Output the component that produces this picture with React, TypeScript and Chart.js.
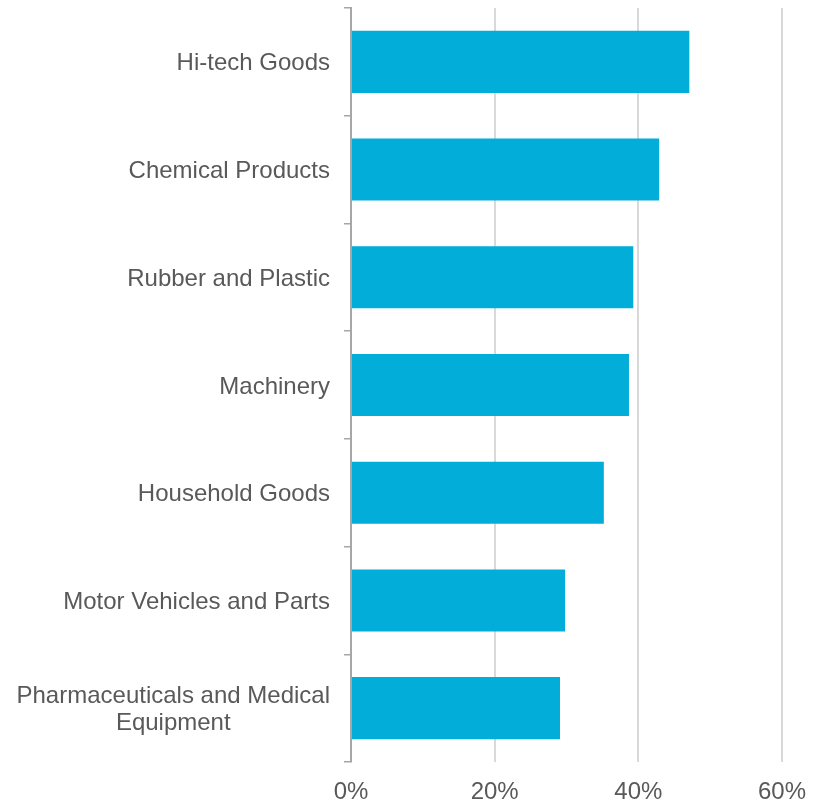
import React, { useEffect, useRef } from "react";
import { Chart, registerables } from "chart.js";

Chart.register(...registerables);

const categories: (string | string[])[] = [
  "Hi-tech Goods",
  "Chemical Products",
  "Rubber and Plastic",
  "Machinery",
  "Household Goods",
  "Motor Vehicles and Parts",
  ["Pharmaceuticals and Medical", "Equipment"],
];
const values: number[] = [47.1, 42.9, 39.3, 38.7, 35.2, 29.8, 29.1];
const xTicks: number[] = [0, 20, 40, 60];

const TEXT = "#595959";
const FAMILY = "'Liberation Sans', Arial, sans-serif";
const FONT = { family: FAMILY, size: 24, lineHeight: 1.125 };

const yLabelPlugin = {
  id: "yLabels",
  afterDraw(chart: any) {
    const scale = chart.scales.y;
    const ctx = chart.ctx;
    const right = scale.right - 21;
    const lh = 27;
    ctx.save();
    ctx.font = `24px ${FAMILY}`;
    ctx.fillStyle = TEXT;
    ctx.textBaseline = "middle";
    categories.forEach((lab, i) => {
      const lines = Array.isArray(lab) ? lab : [lab];
      const y = scale.getPixelForTick(i) + 2;
      const widths = lines.map((l) => ctx.measureText(l).width);
      const maxW = Math.max(...widths);
      const start = y - ((lines.length - 1) * lh) / 2;
      lines.forEach((l, j) => {
        if (lines.length > 1) {
          ctx.textAlign = "center";
          ctx.fillText(l, right - maxW / 2, start + j * lh);
        } else {
          ctx.textAlign = "right";
          ctx.fillText(l, right, start + j * lh);
        }
      });
    });
    ctx.restore();
  },
};

export default function App() {
  const ref = useRef<HTMLCanvasElement | null>(null);
  useEffect(() => {
    document.body.style.margin = "0";
    const ctx = ref.current!;
    const chart = new Chart(ctx, {
      type: "bar",
      data: {
        labels: categories,
        datasets: [
          {
            data: values,
            backgroundColor: "#02AED9",
            borderWidth: 0,
            barPercentage: 0.576,
            categoryPercentage: 1,
          },
        ],
      },
      options: {
        indexAxis: "y",
        animation: false,
        responsive: false,
        maintainAspectRatio: false,
        layout: { padding: { top: 8, right: 39, left: 0, bottom: 0 } },
        plugins: { legend: { display: false }, tooltip: { enabled: false } },
        scales: {
          x: {
            type: "linear",
            min: xTicks[0],
            max: xTicks[xTicks.length - 1],
            afterBuildTicks: (scale: any) => {
              scale.ticks = xTicks.map((v) => ({ value: v }));
            },
            afterFit: (scale: any) => {
              scale.height = 39;
            },
            grid: { color: "#d9d9d9", lineWidth: 2, drawTicks: false },
            border: { display: false },
            ticks: {
              color: TEXT,
              font: FONT,
              padding: 17,
              callback: (v: any) => `${v}%`,
            },
          },
          y: {
            type: "category",
            offset: true,
            afterFit: (scale: any) => {
              scale.width = 351;
              scale.paddingTop = 0;
              scale.paddingBottom = 0;
            },
            grid: {
              offset: true,
              drawOnChartArea: false,
              drawTicks: true,
              tickLength: 7,
              color: "#a6a6a6",
              lineWidth: 1.5,
            },
            border: { display: true, color: "#a6a6a6", width: 2 },
            ticks: {
              display: false,
              autoSkip: false,
            },
          },
        },
      },
      plugins: [yLabelPlugin],
    });
    return () => chart.destroy();
  }, []);
  return (
    <div style={{ width: 823, height: 801 }}>
      <canvas ref={ref} width={823} height={801} style={{ display: "block" }} />
    </div>
  );
}
